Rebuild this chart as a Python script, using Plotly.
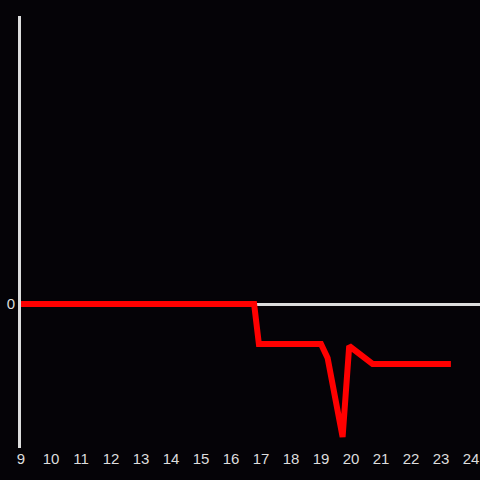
import plotly.graph_objects as go

hours = [9.0, 16.77, 16.93, 19.0, 19.22, 19.72, 19.94, 20.72, 23.33]
values = [0.0, 0.0, -4.0, -4.0, -5.4, -13.3, -4.2, -6.0, -6.0]
x_ticks = list(range(9, 25))

fig = go.Figure(go.Scatter(x=hours, y=values, mode="lines",
                           line=dict(color="#ff0000", width=6)))
fig.update_layout(
    width=480, height=480,
    margin=dict(l=21, r=0, t=16, b=32, autoexpand=False),
    paper_bgcolor="#050307", plot_bgcolor="#050307",
    showlegend=False,
    font=dict(family="Liberation Sans, Arial, sans-serif", size=15, color="#dddddd"),
    xaxis=dict(range=[9, 24.3], tickvals=x_ticks, showgrid=False,
               zeroline=False, showline=False, ticks=""),
    yaxis=dict(range=[-14.4, 28.8], tickvals=[0], showgrid=False,
               zeroline=True, zerolinecolor="#dddddd", zerolinewidth=3,
               showline=True, linecolor="#dddddd", linewidth=3, ticks=""),
)
fig.write_html("out.html", config={"displayModeBar": False},
               post_script="document.body.style.margin='0';document.body.style.background='#050307';")
